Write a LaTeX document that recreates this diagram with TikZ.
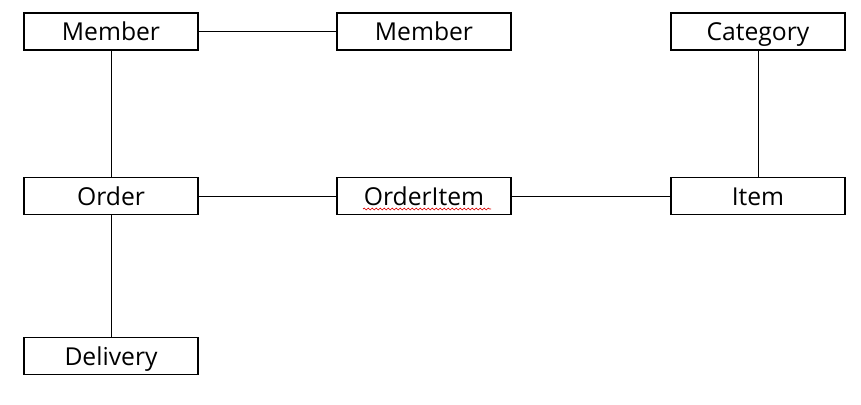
\documentclass[tikz,border=0pt]{standalone}
\usepackage{fontspec}
\setmainfont{Open Sans}
\usetikzlibrary{positioning,decorations.pathmorphing}

\begin{document}
\begin{tikzpicture}[x=0.75pt, y=-0.75pt,
  entity/.style={draw=black, line width=0.9pt, minimum width=174*0.75pt, minimum height=37*0.75pt, inner sep=0pt, text height=14.2pt, text depth=0pt, font=\fontsize{18.5}{21}\selectfont},
  link/.style={draw=black, line width=0.7pt}]
\useasboundingbox (0,0) rectangle (861,404);
% entities
\node[entity] (member) at (111,31.5) {Member};
\node[entity] (member2) at (424,31.5) {Member};
\node[entity] (category) at (758,31.5) {Category};
\node[entity] (order) at (111,196) {Order};
\node[entity] (orderitem) at (424,196) {OrderItem};
\node[entity] (item) at (758,196) {Item};
\node[entity] (delivery) at (111,356) {Delivery};
% relations
\draw[link] (member) -- (member2);
\draw[link] (member) -- (order);
\draw[link] (order) -- (orderitem);
\draw[link] (orderitem) -- (item);
\draw[link] (category) -- (item);
\draw[link] (order) -- (delivery);
% spell-check mark
\coordinate (sqa) at (363,209);
\coordinate (sqb) at (491,209);
\draw[red!85!black, line width=0.5pt, decorate, decoration={snake, amplitude=0.7pt, segment length=3pt}] (sqa) -- (sqb);
\end{tikzpicture}
\end{document}
